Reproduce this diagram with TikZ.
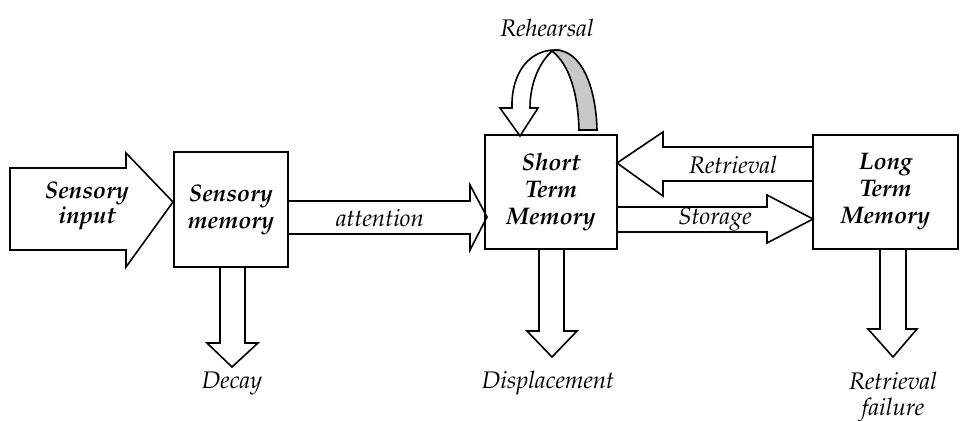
\documentclass[tikz,border=0pt]{standalone}
\usepackage[T1]{fontenc}
\renewcommand{\rmdefault}{ppl}
\begin{document}
\begin{tikzpicture}[x=0.5pt,y=0.5pt,yscale=-1,
  box/.style={draw, line width=0.8pt, align=center, inner sep=0pt, font=\fontsize{12}{13.5}\selectfont\bfseries\itshape},
  lbl/.style={inner sep=0.75pt, align=center, font=\fontsize{12}{13}\selectfont\itshape},
  blk/.style={draw, line width=0.8pt, line join=miter, fill=white}]
\useasboundingbox (0,0) rectangle (963,421);

%Shape: Right Arrow [id:sensory input]
\draw [blk] (10,168) -- (126,168) -- (126,153) -- (173,202) -- (126,267) -- (126,250) -- (10,250) -- cycle ;
%Shape: Right Arrow [id:attention]
\draw [blk] (288,201) -- (470,201) -- (470,185) -- (487,217) -- (470,250) -- (470,234) -- (288,234) -- cycle ;
%Shape: Left Arrow [id:retrieval]
\draw [blk] (813,147) -- (663,147) -- (663,132) -- (617,163) -- (663,196) -- (663,181) -- (813,181) ;
%Shape: Right Arrow [id:storage]
\draw [blk] (617,207) -- (767,207) -- (767,195) -- (813,219) -- (767,243) -- (767,232) -- (617,232) ;
%Shape: Down Arrow [id:decay]
\draw [blk] (220,267) -- (220,343) -- (207,343) -- (232,367) -- (258,343) -- (245,343) -- (245,267) ;
%Shape: Down Arrow [id:displacement]
\draw [blk] (539,249) -- (539,331) -- (527,331) -- (552,357) -- (577,331) -- (564,331) -- (564,249) ;
%Shape: Down Arrow [id:retrieval failure]
\draw [blk] (880,249) -- (880,329) -- (868,329) -- (893,357) -- (917,329) -- (906,329) -- (906,249) ;

%Curve Lines [id:rehearsal back]
\draw [blk, fill={rgb,255:red,200;green,200;blue,200}] (552,51) .. controls (553,50) and (554,50) .. (555,50) .. controls (582,50) and (596,88) .. (597,130) -- (579,130) .. controls (578,95) and (570,65) .. (552,51) -- cycle ;
%Curve Lines [id:rehearsal front]
\draw [blk] (530,108) .. controls (530,82) and (540,62) .. (552,51) .. controls (553,50) and (554,50) .. (555,50) .. controls (530,50) and (511,72) .. (512,108) -- (500,108) -- (520,136) -- (538,108) -- cycle ;

% Boxes
\node [box, minimum width=57pt, minimum height=57.5pt] (sm) at (231,209.5) {Sensory\\memory};
\node [box, minimum width=66pt, minimum height=57pt] (stm) at (551,192) {Short\\Term\\Memory};
\node [box, minimum width=72.5pt, minimum height=57pt] (ltm) at (885.5,192) {Long\\Term\\Memory};

% Text Node
\node [lbl, font=\fontsize{12}{12.5}\selectfont\bfseries\itshape] (inp) at (87,206) {Sensory\\input};
\node [lbl] (att) at (380,218) {attention};
\node [lbl] (ret) at (733,165) {Retrieval};
\node [lbl] (sto) at (715,219) {Storage};
\node [lbl] (reh) at (547,28) {Rehearsal};
\node [lbl] (dec) at (232,383) {Decay};
\node [lbl] (dis) at (548,383) {Displacement};
\node [lbl] (fail) at (893,397) {Retrieval\\failure};
\end{tikzpicture}
\end{document}
